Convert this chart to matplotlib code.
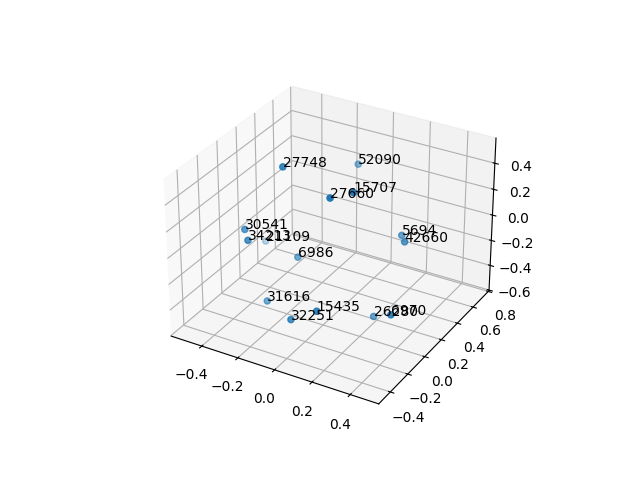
import matplotlib
matplotlib.use("Agg")
import matplotlib.pyplot as plt

labels = ["27748","52090","15707","27660","30541","34213","21109","5694","42660","6986","31616","15435","32251","26280","6970"]
xs = [-0.242,-0.115,0.134,0.059,-0.408,-0.339,-0.55,0.217,0.276,-0.215,-0.29,0.082,-0.058,0.203,0.383]
ys = [0.057,0.644,0.057,-0.041,-0.041,-0.139,0.448,0.448,0.35,0.155,-0.041,-0.237,-0.237,0.155,-0.041]
zs = [0.486,0.234,0.44,0.425,0.0,0.002,-0.441,-0.08,-0.048,-0.255,-0.515,-0.305,-0.433,-0.546,-0.325]

fig = plt.figure(figsize=(6.4,4.8), dpi=100)
ax = fig.add_subplot(projection='3d')
ax.scatter(xs, ys, zs)
for x, y, z, t in zip(xs, ys, zs, labels):
    ax.text(x, y, z, t)
ax.set_xlim(-0.573, 0.547)
ax.set_ylim(-0.53, 0.81)
ax.set_zlim(-0.605, 0.59)
fig.savefig("out.png", dpi=100)
